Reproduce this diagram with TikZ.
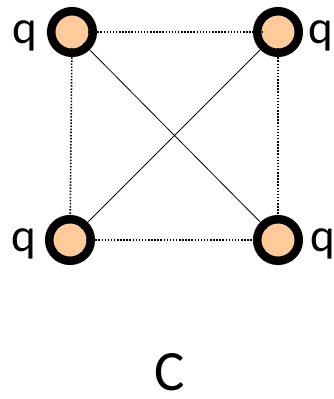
\documentclass[tikz,border=0pt]{standalone}
\usepackage{fontspec}
\setmainfont{Carlito}
\definecolor{peach}{RGB}{255,204,153}
\tikzset{
  charge/.style={circle, draw=black, line width=8.5pt, fill=peach, minimum size=41.6pt, inner sep=0pt},
  dotline/.style={line width=1.6pt, dash pattern=on 1.5pt off 1.6pt, shorten <=16pt, shorten >=16pt},
  solidline/.style={line width=0.8pt, shorten <=16pt, shorten >=16pt},
  qlabel/.style={anchor=base, inner sep=0pt, font=\fontsize{47}{52}\selectfont}
}
\begin{document}
\begin{tikzpicture}[x=1pt,y=-1pt]
\useasboundingbox[fill=white] (0,0) rectangle (334,399);
\node[charge] (tl) at (72,32) {};
\node[charge] (tr) at (278,32) {};
\node[charge] (bl) at (70,240) {};
\node[charge] (br) at (278,240) {};
\draw[dotline] (tl.center) -- (tr.center);
\draw[dotline] (bl.center) -- (br.center);
\draw[dotline] (tl.center) -- (bl.center);
\draw[dotline] (tr.center) -- (br.center);
\draw[solidline] (tl.center) -- (br.center);
\draw[solidline] (tr.center) -- (bl.center);
\node[qlabel] (qtl) at (25,43) {q};
\node[qlabel] (qtr) at (321,43) {q};
\node[qlabel] (qbl) at (24,251) {q};
\node[qlabel] (qbr) at (323,251) {q};
\node[anchor=base, inner sep=0pt, font=\fontsize{57}{62}\selectfont] (c) at (170,390) {C};
\end{tikzpicture}
\end{document}
